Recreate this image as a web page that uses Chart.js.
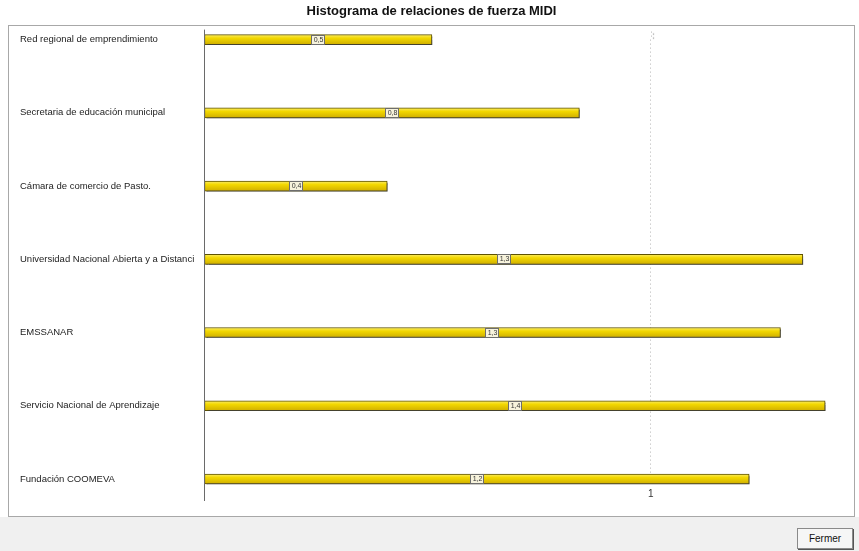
<!DOCTYPE html>
<html>
<head>
<meta charset="utf-8">
<script src="https://cdn.jsdelivr.net/npm/chart.js@4.4.0/dist/chart.umd.min.js"></script>
<style>
  html, body { margin: 0; padding: 0; background: #fff; }
  #wrap { position: relative; width: 859px; height: 551px; overflow: hidden; font-family: "Liberation Sans", Arial, sans-serif; }
  #frame { position: absolute; left: 8px; top: 25px; width: 845px; height: 490px; border: 1px solid #a8a8a8; }
  #box { position: absolute; left: 0; top: 0; width: 859px; height: 516px; }
  #bottom { position: absolute; left: 0; top: 517px; width: 859px; height: 34px; background: #f0f0f0; }
  #closeBtn { position: absolute; left: 797px; top: 528px; width: 54px; height: 19px; background: #f6f6f6;
    border: 1px solid #8a8a8a; box-shadow: 1px 1px 0 #555; font: 10px "Liberation Sans", Arial, sans-serif; color: #111;
    text-align: center; line-height: 19px; }
</style>
</head>
<body>
<div id="wrap">
  <div id="frame"></div>
  <div id="box"><canvas id="chart"></canvas></div>
  <div id="bottom"></div>
  <div id="closeBtn">Fermer</div>
</div>
<script>
const categories = [
  'Red regional de emprendimiento',
  'Secretaria de educación municipal',
  'Cámara de comercio de Pasto.',
  'Universidad Nacional Abierta y a Distanci',
  'EMSSANAR',
  'Servicio Nacional de Aprendizaje',
  'Fundación COOMEVA'
];
const values = [0.51, 0.84, 0.41, 1.34, 1.29, 1.39, 1.22];
const xTicks = [1];

const ctx = document.getElementById('chart').getContext('2d');

// drop shadow under the bars
const shadowPlugin = {
  id: 'barShadow',
  beforeDatasetsDraw(chart) {
    const c = chart.ctx;
    c.save();
    c.shadowColor = 'rgba(60,60,60,0.75)';
    c.shadowOffsetX = 2;
    c.shadowOffsetY = 2;
    c.shadowBlur = 1;
  },
  afterDatasetsDraw(chart) {
    chart.ctx.restore();
    // small value boxes in the middle of every bar
    const c = chart.ctx;
    const meta = chart.getDatasetMeta(0);
    c.save();
    c.font = '7px "Liberation Sans", Arial, sans-serif';
    c.textAlign = 'center';
    c.textBaseline = 'middle';
    meta.data.forEach((bar, i) => {
      const txt = values[i].toFixed(1).replace('.', ',');
      const cx = Math.round((bar.base + bar.x) / 2);
      const cy = Math.round(bar.y);
      c.fillStyle = '#f7f3dc';
      c.fillRect(cx - 6, cy - 4, 13, 9);
      c.strokeStyle = '#6d6d6d';
      c.lineWidth = 1;
      c.strokeRect(cx - 6.5, cy - 4.5, 13, 9);
      c.fillStyle = '#333';
      c.fillText(txt, cx + 0.5, cy + 0.5);
    });
    c.restore();
  }
};

// vertical axis line at 0 and the dotted line at 1, a bit longer than the plot area
const axisLine = {
  id: 'axisLine',
  beforeDatasetsDraw(chart) {
    const c = chart.ctx;
    const area = chart.chartArea;
    const x1 = Math.round(chart.scales.x.getPixelForValue(1)) + 0.5;
    c.save();
    c.strokeStyle = '#b4b4b4';
    c.setLineDash([1, 3]);
    c.beginPath();
    c.moveTo(x1, area.top - 8);
    c.lineTo(x1, area.top);
    c.stroke();
    c.restore();
  },
  afterDraw(chart) {
    const c = chart.ctx;
    const x = Math.round(chart.scales.x.getPixelForValue(0)) + 0.5;
    const area = chart.chartArea;
    c.save();
    c.strokeStyle = '#6a6a6a';
    c.lineWidth = 1;
    c.beginPath();
    c.moveTo(x, area.top - 10);
    c.lineTo(x, area.bottom + 22);
    c.stroke();
    c.restore();
  }
};

new Chart(ctx, {
  type: 'bar',
  data: {
    labels: categories,
    datasets: [{
      data: values,
      clip: false,
      barThickness: 10,
      borderWidth: 1,
      borderColor: '#5e5200',
      borderSkipped: false,
      backgroundColor: c => {
        const chart = c.chart;
        const ys = chart.scales.y;
        if (!chart.chartArea || !ys || c.dataIndex === undefined) return '#f0d200';
        const yc = ys.getPixelForValue(c.dataIndex);
        const g = chart.ctx.createLinearGradient(0, yc - 5, 0, yc + 5);
        g.addColorStop(0, '#faec6a');
        g.addColorStop(0.35, '#f3d800');
        g.addColorStop(1, '#cfae00');
        return g;
      }
    }]
  },
  options: {
    indexAxis: 'y',
    responsive: true,
    maintainAspectRatio: false,
    animation: false,
    layout: { padding: { left: 20, right: 16, top: 0, bottom: 12 } },
    plugins: {
      legend: { display: false },
      tooltip: { enabled: false },
      title: {
        display: true,
        text: 'Histograma de relaciones de fuerza MIDI',
        color: '#111',
        font: { family: '"Liberation Sans", Arial, sans-serif', size: 13, weight: 'bold' },
        padding: { top: 4, bottom: 20 }
      }
    },
    scales: {
      x: {
        min: 0,
        max: 1.43,
        ticks: {
          stepSize: 1,
          includeBounds: false,
          padding: 4,
          color: '#333',
          font: { family: '"Liberation Sans", Arial, sans-serif', size: 10 },
          callback: v => xTicks.includes(v) ? String(v) : ''
        },
        grid: {
          color: c => (c.tick && xTicks.includes(c.tick.value)) ? '#b4b4b4' : 'rgba(0,0,0,0)',
          tickColor: 'rgba(0,0,0,0)',
          tickLength: 5
        },
        border: { display: false, dash: [1, 3] }
      },
      y: {
        offset: false,
        afterFit: s => { s.width = 184; },
        ticks: {
          crossAlign: 'far',
          color: '#222',
          font: { family: '"Liberation Sans", Arial, sans-serif', size: 9.5 }
        },
        grid: { display: false },
        border: { display: false }
      }
    }
  },
  plugins: [shadowPlugin, axisLine]
});
</script>
</body>
</html>
